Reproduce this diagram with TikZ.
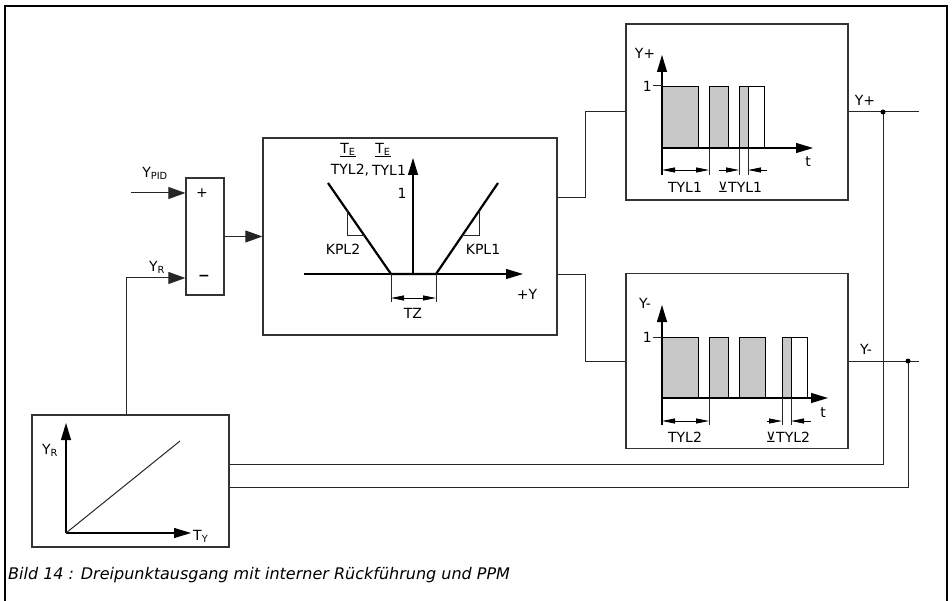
\documentclass[tikz,border=0pt]{standalone}
\usepackage{fontspec}
\setmainfont{DejaVu Sans}
\usetikzlibrary{arrows.meta}

\begin{document}
\begin{tikzpicture}[
  x=1pt, y=-1pt,
  every node/.style={font=\fontsize{14}{16}\selectfont, inner sep=1pt},
  blk/.style={draw=black!80, line width=1.3pt},
  wire/.style={draw=black!85, line width=1pt},
  arr/.style={wire, -{Triangle[length=17pt,width=12pt]}},
  axis/.style={line width=1.1pt, -{Triangle[length=17pt,width=10pt]}},
  dim/.style={line width=0.8pt, -{Triangle[length=13pt,width=5pt]}},
  dimboth/.style={line width=0.8pt, {Triangle[length=13pt,width=5pt]}-{Triangle[length=13pt,width=5pt]}},
  pulse/.style={draw, line width=0.8pt, fill=black!22}
]
  \useasboundingbox (0,0) rectangle (952,601);
  % Rahmen
  \draw[line width=2.5pt] (5,601) -- (5,6) -- (947,6) -- (947,601);

  % Bloecke
  \node[blk, minimum width=38pt, minimum height=117pt] (sum) at (205,236.5) {};
  \node[blk, minimum width=294pt, minimum height=197pt] (kennl) at (410,236.5) {};
  \node[blk, minimum width=222pt, minimum height=176pt] (pplus) at (737,112) {};
  \node[blk, minimum width=222pt, minimum height=175pt] (pminus) at (737,361) {};
  \node[blk, minimum width=197pt, minimum height=132pt] (rueck) at (130.5,481) {};

  % Summierer
  \node (plus) at (202,193) {+};
  \node (minus) at (204,278) {\textbf{−}};
  \coordinate (ypidin) at (131,193);
  \coordinate (yrin) at (126,278);
  \node (ypid) at (155,173) {Y\textsubscript{PID}};
  \node (yr) at (157,267) {Y\textsubscript{R}};
  \draw[arr] (ypidin) -- (ypidin -| sum.west);
  \draw[arr] (yrin |- rueck.north) -- (yrin) -- (yrin -| sum.west);
  \draw[arr] (sum) -- (kennl);

  % Kennlinie
  \draw[axis] (304,274) -- (523,274);
  \draw[axis] (413,274) -- (413,158);
  \draw[line width=2.2pt] (328,183) -- (391,274) -- (436,274) -- (498,183);
  \draw[wire] (347,210.4) |- (364.7,236);
  \draw[wire] (479,210.9) |- (461.9,236);
  \draw[wire] (391,274) -- (391,302) (436,274) -- (436,302);
  \draw[dimboth] (391,298) -- (436,298);
  \node (tz) at (413,313) {TZ};
  \node (eins) at (402,193) {1};
  \node (kpl2) at (343,249) {KPL2};
  \node (kpl1) at (483,249) {KPL1};
  \node (plusy) at (527,294) {+Y};
  \node (te2) at (348,150) {\underline{T\textsubscript{E}}};
  \node (tyl2) at (350,170) {TYL2,};
  \node (te1) at (383,150) {\underline{T\textsubscript{E}}};
  \node (tyl1) at (389,170) {TYL1};

  % Impulse Y+
  \draw[pulse] (662,86) rectangle (698,148);
  \draw[pulse] (709,86) rectangle (728,148);
  \draw[pulse] (739,86) rectangle (748,148);
  \draw[line width=0.8pt] (748,86) rectangle (764,148);
  \draw[axis] (662,175) -- (662,55);
  \draw[axis] (662,148) -- (813,148);
  \draw[wire] (653,86) -- (662,86);
  \draw[wire] (709,148) -- (709,175) (739,148) -- (739,175) (748,148) -- (748,175);
  \draw[dimboth] (662,170) -- (709,170);
  \draw[dim] (719,170) -- (739,170);
  \draw[dim] (767,170) -- (748,170);
  \node (lplus) at (645,53) {Y+};
  \node[anchor=east] (eplus) at (653,86) {1};
  \node (tplus) at (808,162) {t};
  \node (tyl1a) at (685,187) {TYL1};
  \node (tyl1b) at (740,187) {⊻TYL1};

  % Impulse Y-
  \draw[pulse] (662,337) rectangle (698,398);
  \draw[pulse] (709,337) rectangle (728,398);
  \draw[pulse] (739,337) rectangle (765,398);
  \draw[pulse] (782,337) rectangle (791,398);
  \draw[line width=0.8pt] (791,337) rectangle (807,398);
  \draw[axis] (662,425) -- (662,305);
  \draw[axis] (662,398) -- (828,398);
  \draw[wire] (653,337) -- (662,337);
  \draw[wire] (709,398) -- (709,425) (782,398) -- (782,425) (791,398) -- (791,425);
  \draw[dimboth] (662,421) -- (709,421);
  \draw[dim] (767,421) -- (782,421);
  \draw[dim] (811,421) -- (791,421);
  \node (lminus) at (645,303) {Y-};
  \node[anchor=east] (eminus) at (653,337) {1};
  \node (tminus) at (823,413) {t};
  \node (tyl2a) at (685,437) {TYL2};
  \node (tyl2b) at (788,437) {⊻TYL2};

  % Verbindungen
  \coordinate (bend) at (585,0);
  \draw[wire] (kennl.east |- 0,198) -| (bend |- pplus) -- (pplus);
  \draw[wire] (kennl.east |- 0,275) -| (bend |- pminus) -- (pminus);
  \coordinate (outplus) at (919,112);
  \coordinate (tapplus) at (883,112);
  \coordinate (outminus) at (919,361);
  \coordinate (tapminus) at (908,361);
  \draw[wire] (pplus.east) -- (outplus);
  \draw[wire] (pminus.east) -- (outminus);
  \node (yplus) at (865,100) {Y+};
  \node (yminus) at (866,349) {Y-};
  \draw[wire] (tapplus) |- (rueck.east |- 0,464);
  \draw[wire] (tapminus) |- (rueck.east |- 0,487);
  \fill (tapplus) circle (2.5pt);
  \fill (tapminus) circle (2.5pt);

  % Rueckfuehrung
  \draw[axis] (66,533) -- (66,423);
  \draw[axis] (66,533) -- (191,533);
  \draw[wire] (66,533) -- (180,441);
  \node (yrr) at (50,450) {Y\textsubscript{R}};
  \node[anchor=west] (ty) at (192,536) {T\textsubscript{Y}};

  % Bildunterschrift
  \node[anchor=west, font=\fontsize{16}{18}\selectfont\itshape] (bild) at (7,575) {Bild 14 : Dreipunktausgang mit interner Rückführung und PPM};
\end{tikzpicture}
\end{document}
